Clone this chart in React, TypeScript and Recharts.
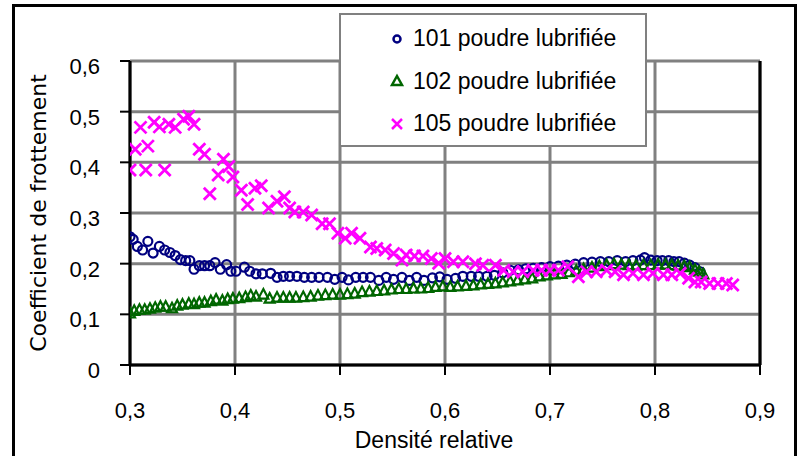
import { ScatterChart, Scatter, XAxis, YAxis, CartesianGrid, ReferenceLine } from 'recharts'

// [densité relative, coefficient de frottement]
const poudre101: [number, number][] = [
  [0.300, 0.253], [0.303, 0.248], [0.307, 0.234], [0.312, 0.227], [0.317, 0.244], [0.322, 0.221],
  [0.328, 0.234], [0.333, 0.227], [0.338, 0.222], [0.343, 0.216], [0.348, 0.208], [0.353, 0.206],
  [0.357, 0.206], [0.361, 0.189], [0.366, 0.196], [0.371, 0.196], [0.376, 0.196], [0.381, 0.202],
  [0.386, 0.189], [0.392, 0.198], [0.396, 0.185], [0.401, 0.185], [0.409, 0.193], [0.414, 0.185],
  [0.420, 0.180], [0.426, 0.180], [0.434, 0.181], [0.440, 0.173], [0.446, 0.175], [0.452, 0.175],
  [0.459, 0.175], [0.466, 0.173], [0.473, 0.173], [0.480, 0.173], [0.488, 0.173], [0.495, 0.169],
  [0.502, 0.173], [0.508, 0.168], [0.515, 0.173], [0.522, 0.173], [0.529, 0.173], [0.537, 0.167],
  [0.544, 0.173], [0.551, 0.169], [0.559, 0.173], [0.566, 0.167], [0.573, 0.173], [0.580, 0.167],
  [0.588, 0.172], [0.595, 0.174], [0.602, 0.169], [0.610, 0.171], [0.617, 0.175], [0.625, 0.175],
  [0.632, 0.175], [0.640, 0.175], [0.647, 0.177], [0.655, 0.182], [0.662, 0.187], [0.670, 0.188],
  [0.677, 0.190], [0.684, 0.191], [0.692, 0.192], [0.700, 0.194], [0.708, 0.195], [0.716, 0.197],
  [0.724, 0.199], [0.732, 0.202], [0.740, 0.203], [0.748, 0.204], [0.756, 0.204], [0.764, 0.206],
  [0.772, 0.204], [0.779, 0.206], [0.786, 0.207], [0.790, 0.212], [0.796, 0.207], [0.802, 0.206],
  [0.807, 0.206], [0.813, 0.206], [0.818, 0.204], [0.823, 0.204], [0.828, 0.201], [0.833, 0.197],
  [0.838, 0.192], [0.843, 0.184],
]

const poudre102: [number, number][] = [
  [0.300, 0.103], [0.304, 0.108], [0.309, 0.110], [0.314, 0.110], [0.319, 0.112], [0.324, 0.114],
  [0.329, 0.116], [0.334, 0.116], [0.340, 0.113], [0.345, 0.118], [0.350, 0.120], [0.356, 0.122],
  [0.361, 0.121], [0.366, 0.124], [0.371, 0.124], [0.377, 0.127], [0.382, 0.130], [0.388, 0.128],
  [0.393, 0.131], [0.398, 0.132], [0.404, 0.133], [0.410, 0.135], [0.415, 0.138], [0.420, 0.136],
  [0.427, 0.140], [0.433, 0.132], [0.440, 0.134], [0.446, 0.134], [0.452, 0.134], [0.458, 0.134],
  [0.465, 0.135], [0.472, 0.136], [0.479, 0.138], [0.486, 0.139], [0.493, 0.140], [0.500, 0.140],
  [0.507, 0.141], [0.514, 0.142], [0.521, 0.145], [0.528, 0.146], [0.535, 0.147], [0.542, 0.148],
  [0.549, 0.150], [0.556, 0.151], [0.563, 0.151], [0.570, 0.152], [0.577, 0.152], [0.584, 0.153],
  [0.591, 0.155], [0.598, 0.156], [0.605, 0.155], [0.612, 0.156], [0.620, 0.157], [0.627, 0.158],
  [0.634, 0.160], [0.641, 0.161], [0.648, 0.162], [0.655, 0.164], [0.662, 0.166], [0.669, 0.168],
  [0.676, 0.170], [0.683, 0.172], [0.690, 0.176], [0.697, 0.178], [0.704, 0.180], [0.711, 0.181],
  [0.718, 0.184], [0.725, 0.187], [0.732, 0.190], [0.740, 0.193], [0.747, 0.196], [0.754, 0.198],
  [0.761, 0.200], [0.768, 0.199], [0.775, 0.198], [0.782, 0.197], [0.789, 0.198], [0.796, 0.198],
  [0.803, 0.199], [0.810, 0.199], [0.816, 0.198], [0.822, 0.197], [0.828, 0.196], [0.833, 0.194],
  [0.838, 0.189], [0.842, 0.185], [0.846, 0.180],
]

const poudre105: [number, number][] = [
  [0.300, 0.385], [0.305, 0.426], [0.310, 0.469], [0.315, 0.385], [0.317, 0.432], [0.323, 0.479],
  [0.328, 0.470], [0.333, 0.385], [0.337, 0.475], [0.343, 0.469], [0.351, 0.485], [0.356, 0.491],
  [0.361, 0.475], [0.366, 0.426], [0.371, 0.416], [0.376, 0.338], [0.384, 0.375], [0.389, 0.406],
  [0.394, 0.392], [0.398, 0.371], [0.406, 0.345], [0.412, 0.317], [0.419, 0.349], [0.425, 0.354],
  [0.432, 0.310], [0.440, 0.323], [0.447, 0.332], [0.452, 0.310], [0.457, 0.302], [0.465, 0.302],
  [0.473, 0.296], [0.483, 0.279], [0.490, 0.279], [0.498, 0.260], [0.505, 0.250], [0.511, 0.260],
  [0.519, 0.250], [0.529, 0.233], [0.535, 0.230], [0.543, 0.227], [0.551, 0.220], [0.559, 0.207],
  [0.563, 0.217], [0.571, 0.215], [0.579, 0.215], [0.587, 0.210], [0.594, 0.201], [0.600, 0.210],
  [0.608, 0.204], [0.617, 0.204], [0.629, 0.200], [0.636, 0.197], [0.648, 0.197], [0.656, 0.187],
  [0.665, 0.184], [0.674, 0.184], [0.684, 0.187], [0.692, 0.187], [0.700, 0.187], [0.708, 0.187],
  [0.717, 0.194], [0.727, 0.174], [0.735, 0.184], [0.744, 0.184], [0.754, 0.187], [0.762, 0.184],
  [0.770, 0.178], [0.779, 0.181], [0.789, 0.178], [0.798, 0.181], [0.808, 0.178], [0.816, 0.178],
  [0.824, 0.181], [0.832, 0.171], [0.838, 0.164], [0.844, 0.164], [0.852, 0.161], [0.860, 0.161],
  [0.868, 0.161], [0.874, 0.158],
]

const xTicks = [0.3, 0.4, 0.5, 0.6, 0.7, 0.8, 0.9]
const yTicks = [0, 0.1, 0.2, 0.3, 0.4, 0.5, 0.6]

const seriesNames = ['101 poudre lubrifiée', '102 poudre lubrifiée', '105 poudre lubrifiée']

const NAVY = '#000080'
const GREEN = '#006600'
const MAGENTA = '#FF00FF'
const FONT = '"Liberation Sans", Arial, sans-serif'

const toRows = (pts: [number, number][]) => pts.map(([d, c]) => ({ d, c }))
const fmt = (v: number) => (v === 0 ? '0' : v.toFixed(1).replace('.', ','))

function Circle({ cx, cy }: any) {
  return <circle cx={cx} cy={cy} r={4.5} fill="none" stroke={NAVY} strokeWidth={2.2} />
}

function Triangle({ cx, cy }: any) {
  return (
    <polygon
      points={`${cx},${cy - 5} ${cx + 5},${cy + 4.5} ${cx - 5},${cy + 4.5}`}
      fill="none"
      stroke={GREEN}
      strokeWidth={2.2}
    />
  )
}

function Cross({ cx, cy }: any) {
  const s = 6
  return (
    <path
      d={`M${cx - s},${cy - s}L${cx + s},${cy + s}M${cx - s},${cy + s}L${cx + s},${cy - s}`}
      stroke={MAGENTA}
      strokeWidth={2.8}
    />
  )
}

function YTick({ x, y, payload }: any) {
  return (
    <text x={x} y={y} dy={13} textAnchor="end" fontSize={22} fontFamily={FONT} fill="#000">
      {fmt(payload.value)}
    </text>
  )
}

function XTick({ x, y, payload }: any) {
  return (
    <text x={x} y={y} dy={16} textAnchor="middle" fontSize={22} fontFamily={FONT} fill="#000">
      {fmt(payload.value)}
    </text>
  )
}

function YTitle({ viewBox }: any) {
  const cx = viewBox.x + 38
  const cy = viewBox.y + viewBox.height / 2
  return (
    <text
      x={cx}
      y={cy}
      transform={`rotate(-90 ${cx} ${cy})`}
      textAnchor="middle"
      dy={8}
      fontSize={22}
      fontFamily='"DejaVu Sans", sans-serif'
      fill="#000"
    >
      Coefficient de frottement
    </text>
  )
}

function XTitle({ viewBox }: any) {
  return (
    <text
      x={viewBox.x + viewBox.width / 2 - 11}
      y={viewBox.y + 83}
      textAnchor="middle"
      fontSize={23}
      fontFamily={FONT}
      fill="#000"
    >
      Densité relative
    </text>
  )
}

function LegendMarker({ i }: { i: number }) {
  return (
    <svg width={16} height={16} style={{ display: 'block' }}>
      {i === 0 && <circle cx={8} cy={8} r={3.5} fill="none" stroke={NAVY} strokeWidth={2.5} />}
      {i === 1 && <polygon points="8,3 13,12 3,12" fill="none" stroke={GREEN} strokeWidth={2.5} />}
      {i === 2 && <path d="M3,3L13,13M3,13L13,3" stroke={MAGENTA} strokeWidth={2.5} />}
    </svg>
  )
}

export default function App() {
  return (
    <div
      style={{
        position: 'absolute',
        left: 0,
        top: 0,
        width: 803,
        height: 456,
        overflow: 'hidden',
        background: '#fff',
      }}
    >
      <div
        style={{
          position: 'absolute',
          left: 12,
          top: 4,
          width: 785,
          height: 480,
          border: '3px solid #000',
          boxSizing: 'border-box',
        }}
      />
      <div style={{ position: 'absolute', left: 0, top: 0 }}>
        <ScatterChart width={803} height={456} margin={{ top: 61, right: 43, bottom: 0, left: 0 }}>
          <CartesianGrid stroke="#808080" strokeWidth={3} />
          <XAxis
            type="number"
            dataKey="d"
            domain={[0.3, 0.9]}
            ticks={xTicks}
            height={91}
            tickSize={10}
            tickMargin={27}
            axisLine={{ stroke: '#000', strokeWidth: 3 }}
            tickLine={{ stroke: '#000', strokeWidth: 2 }}
            tick={<XTick />}
            label={<XTitle />}
            allowDataOverflow
          />
          <YAxis
            type="number"
            dataKey="c"
            domain={[0, 0.6]}
            ticks={yTicks}
            width={130}
            tickSize={10}
            tickMargin={20}
            axisLine={{ stroke: '#000', strokeWidth: 3 }}
            tickLine={{ stroke: '#000', strokeWidth: 2 }}
            tick={<YTick />}
            label={<YTitle />}
            allowDataOverflow
          />
          <ReferenceLine x={0.9} stroke="#000" strokeWidth={3} ifOverflow="visible" />
          <Scatter name={seriesNames[0]} data={toRows(poudre101)} shape={<Circle />} isAnimationActive={false} />
          <Scatter name={seriesNames[1]} data={toRows(poudre102)} shape={<Triangle />} isAnimationActive={false} />
          <Scatter name={seriesNames[2]} data={toRows(poudre105)} shape={<Cross />} isAnimationActive={false} />
        </ScatterChart>
      </div>
      <div
        style={{
          position: 'absolute',
          left: 339,
          top: 13,
          width: 308,
          height: 134,
          boxSizing: 'border-box',
          border: '2px solid #808080',
          background: '#fff',
          fontFamily: FONT,
          fontSize: 23,
          color: '#000',
        }}
      >
        {seriesNames.map((name, i) => (
          <div
            key={name}
            style={{
              position: 'absolute',
              left: 48,
              top: 10 + i * 42.5,
              height: 27,
              display: 'flex',
              alignItems: 'center',
              whiteSpace: 'nowrap',
            }}
          >
            <LegendMarker i={i} />
            <span style={{ marginLeft: 8 }}>{name}</span>
          </div>
        ))}
      </div>
    </div>
  )
}
